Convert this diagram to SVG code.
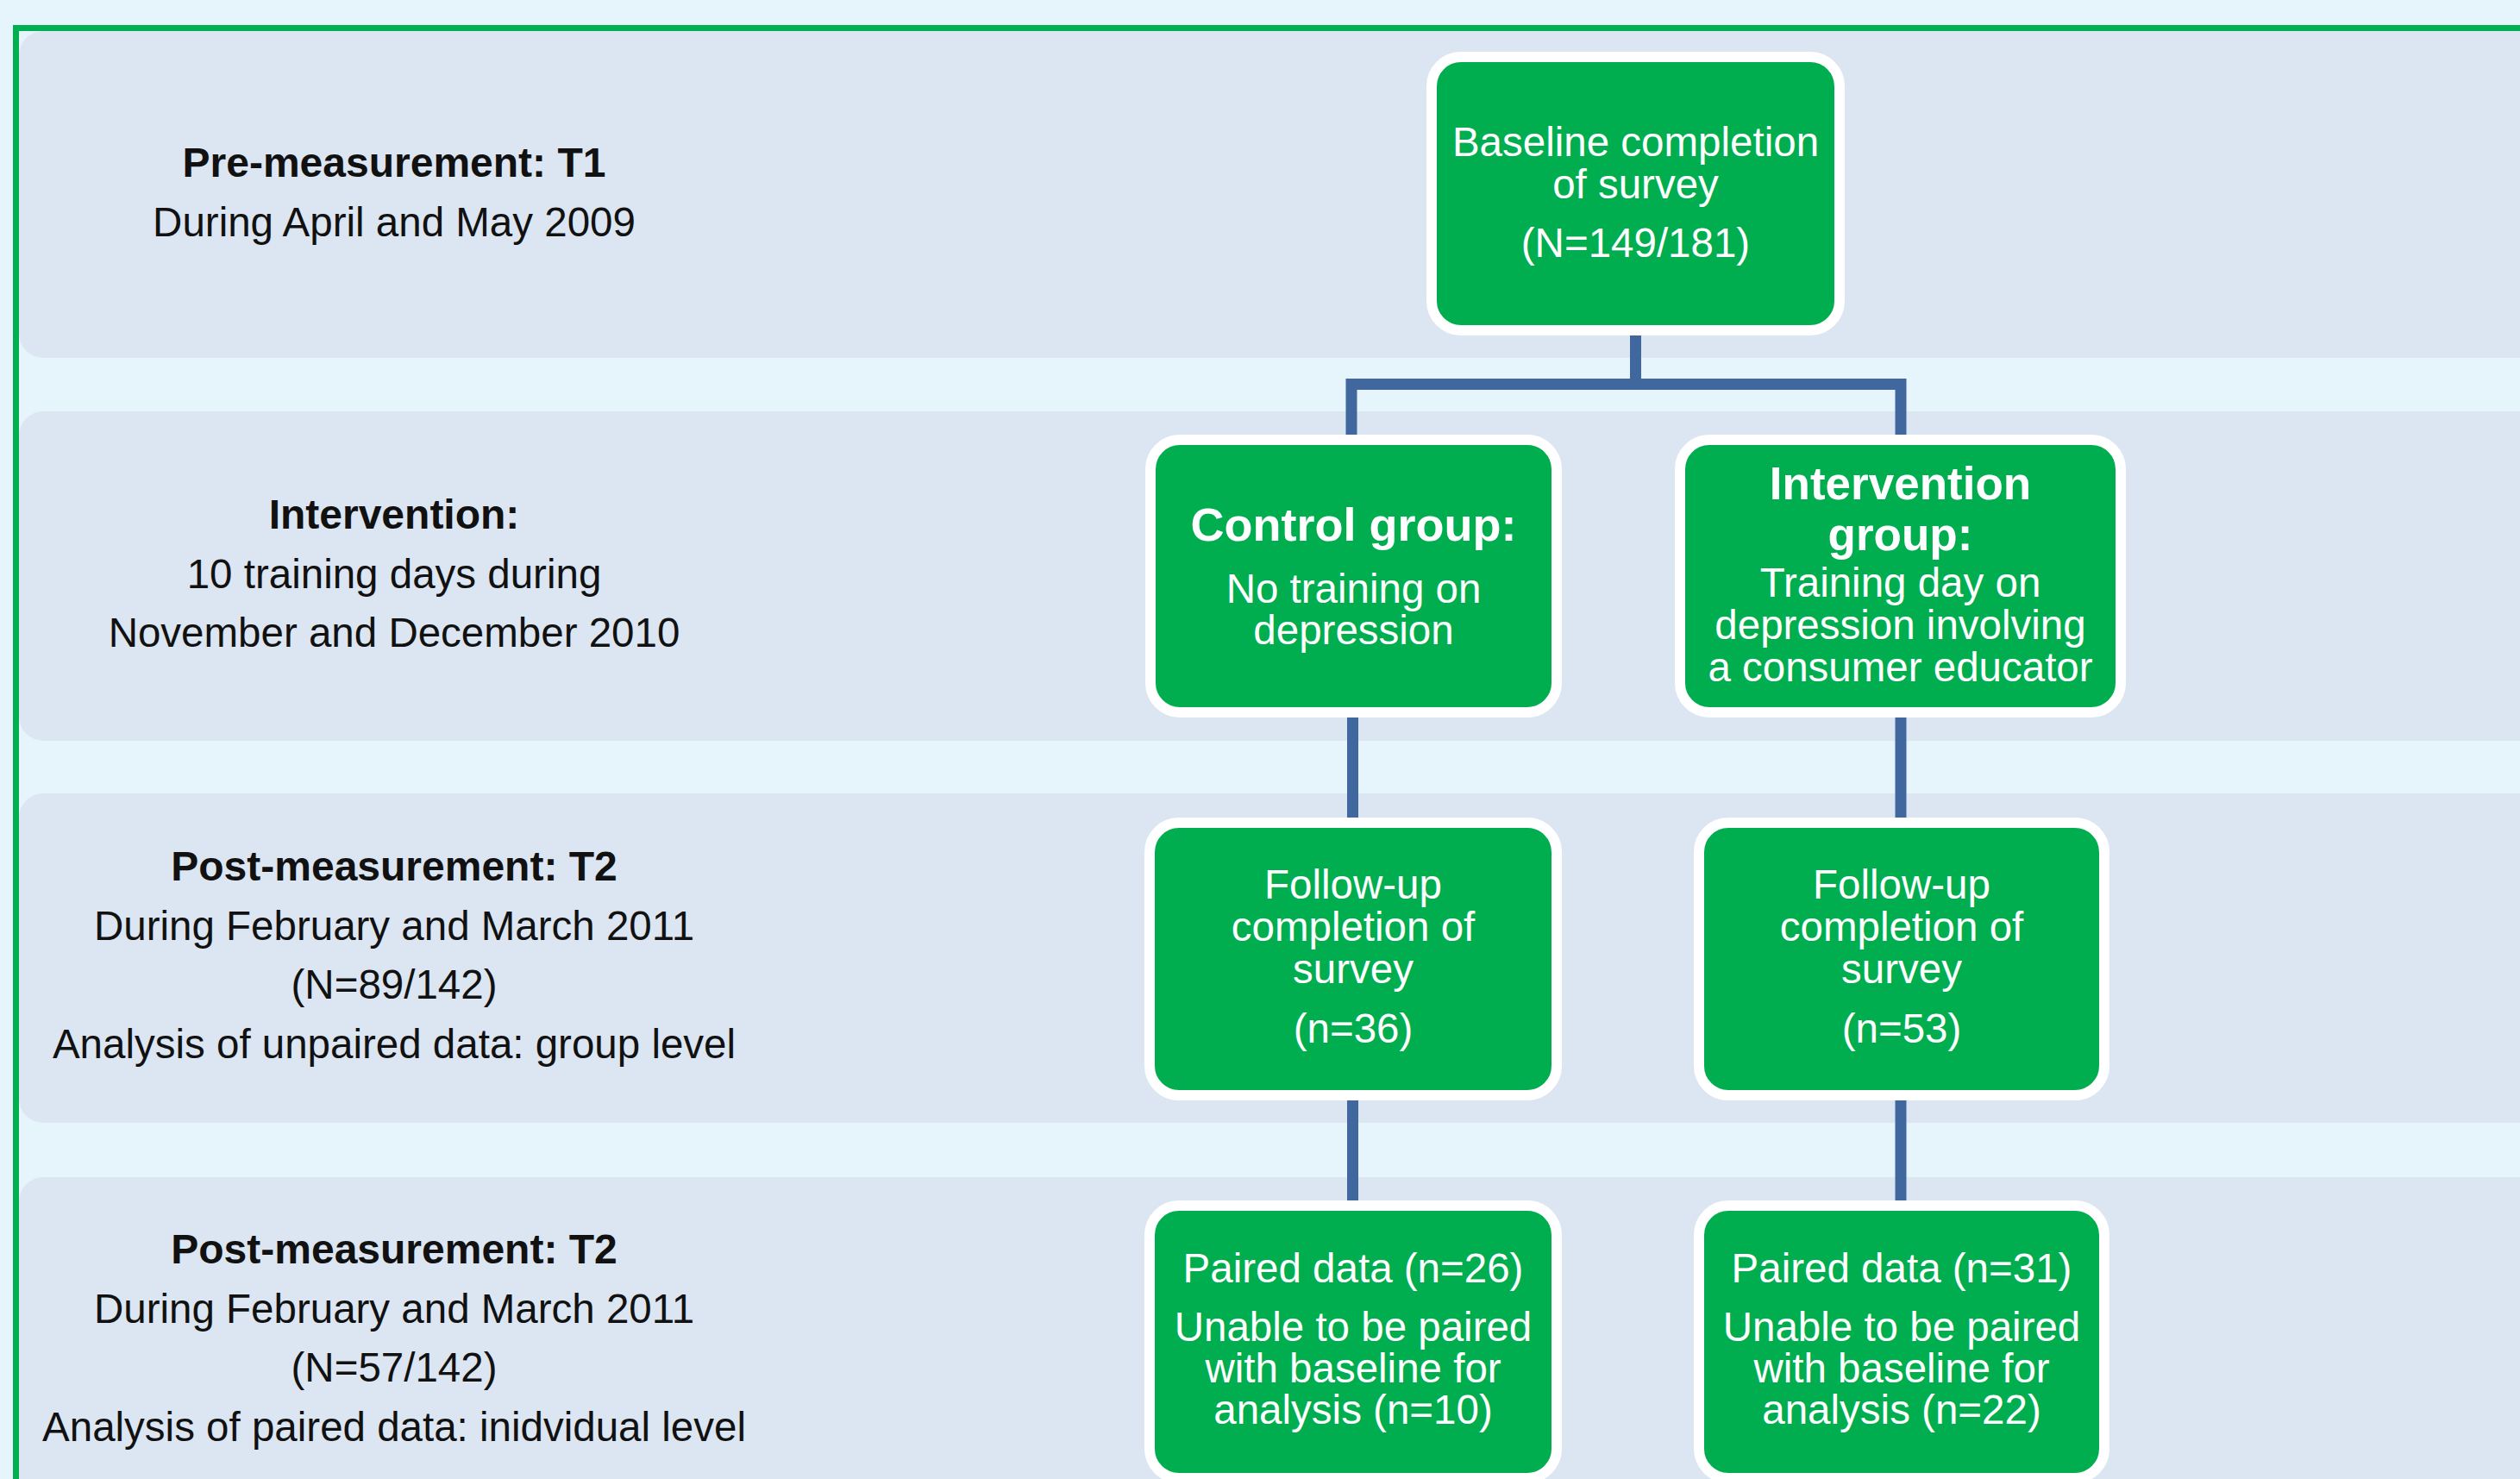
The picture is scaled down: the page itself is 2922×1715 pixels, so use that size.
<svg xmlns="http://www.w3.org/2000/svg" width="2922" height="1715" viewBox="0 0 2922 1715">
<style>
.band{fill:#DCE6F2}
.lbl{font-family:"Liberation Sans",Arial,sans-serif;font-size:47.5px;fill:#111;text-anchor:middle}
.lblb{font-family:"Liberation Sans",Arial,sans-serif;font-size:48px;font-weight:bold;fill:#111;text-anchor:middle}
.box{fill:#00AE50;stroke:#FFFFFF;stroke-width:12}
.t{font-family:"Liberation Sans",Arial,sans-serif;font-size:47.5px;fill:#FFFFFF;text-anchor:middle}
.tb{font-family:"Liberation Sans",Arial,sans-serif;font-size:54px;font-weight:bold;fill:#FFFFFF;text-anchor:middle}
.con{fill:none;stroke:#41689E;stroke-width:13;stroke-linejoin:miter}
</style>
<rect x="0" y="0" width="2922" height="1715" fill="#E6F5FC"/>
<g id="band-t1">
<rect class="band" x="22" y="36" width="2960" height="379" rx="28"/>
<text class="lblb" x="457" y="205">Pre-measurement: T1</text>
<text class="lbl" x="457" y="274">During April and May 2009</text>
</g>
<g id="band-intervention">
<rect class="band" x="22" y="477" width="2960" height="382" rx="28"/>
<text class="lblb" x="457" y="613">Intervention:</text>
<text class="lbl" x="457" y="682">10 training days during</text>
<text class="lbl" x="457" y="750">November and December 2010</text>
</g>
<g id="band-t2-unpaired">
<rect class="band" x="22" y="920" width="2960" height="382" rx="28"/>
<text class="lblb" x="457" y="1021">Post-measurement: T2</text>
<text class="lbl" x="457" y="1090">During February and March 2011</text>
<text class="lbl" x="457" y="1158">(N=89/142)</text>
<text class="lbl" x="457" y="1227">Analysis of unpaired data: group level</text>
</g>
<g id="band-t2-paired">
<rect class="band" x="22" y="1365" width="2960" height="400" rx="28"/>
<text class="lblb" x="457" y="1465">Post-measurement: T2</text>
<text class="lbl" x="457" y="1534">During February and March 2011</text>
<text class="lbl" x="457" y="1602">(N=57/142)</text>
<text class="lbl" x="457" y="1671">Analysis of paired data: inidvidual level</text>
</g>
<rect x="18.5" y="32.5" width="3000" height="2000" fill="none" stroke="#00B050" stroke-width="7"/>
<g id="connectors">
<path class="con" d="M1896.5 384 V445.5"/>
<path class="con" d="M1567 504 V445.5 H2204 V504"/>
<path class="con" d="M1568.5 832 V949"/>
<path class="con" d="M2204 832 V949"/>
<path class="con" d="M1568.5 1270 V1393"/>
<path class="con" d="M2204 1270 V1393"/>
</g>
<g id="baseline">
<rect class="box" x="1660" y="66" width="473" height="317" rx="34"/>
<text class="t" x="1896.5" y="181">Baseline completion</text>
<text class="t" x="1896.5" y="230">of survey</text>
<text class="t" x="1896.5" y="298">(N=149/181)</text>
</g>
<g id="control-group">
<rect class="box" x="1334" y="510" width="471" height="316" rx="34"/>
<text class="tb" x="1569.5" y="627">Control group:</text>
<text class="t" x="1569.5" y="699">No training on</text>
<text class="t" x="1569.5" y="747">depression</text>
</g>
<g id="intervention-group">
<rect class="box" x="1948" y="510" width="511" height="316" rx="34"/>
<text class="tb" x="2203.5" y="579" style="font-size:53px">Intervention<tspan x="2203.5" dy="59">group:</tspan></text>
<text class="t" x="2203.5" y="692">Training day on</text>
<text class="t" x="2203.5" y="741">depression involving</text>
<text class="t" x="2203.5" y="790">a consumer educator</text>
</g>
<g id="followup-control">
<rect class="box" x="1333" y="954" width="472" height="316" rx="34"/>
<text class="t" x="1569" y="1042">Follow-up</text>
<text class="t" x="1569" y="1091">completion of</text>
<text class="t" x="1569" y="1140">survey</text>
<text class="t" x="1569" y="1209">(n=36)</text>
</g>
<g id="followup-intervention">
<rect class="box" x="1970" y="954" width="470" height="316" rx="34"/>
<text class="t" x="2205" y="1042">Follow-up</text>
<text class="t" x="2205" y="1091">completion of</text>
<text class="t" x="2205" y="1140">survey</text>
<text class="t" x="2205" y="1209">(n=53)</text>
</g>
<g id="paired-control">
<rect class="box" x="1333" y="1398" width="472" height="316" rx="34"/>
<text class="t" x="1569" y="1487">Paired data (n=26)</text>
<text class="t" x="1569" y="1555">Unable to be paired</text>
<text class="t" x="1569" y="1603">with baseline for</text>
<text class="t" x="1569" y="1651">analysis (n=10)</text>
</g>
<g id="paired-intervention">
<rect class="box" x="1970" y="1398" width="470" height="316" rx="34"/>
<text class="t" x="2205" y="1487">Paired data (n=31)</text>
<text class="t" x="2205" y="1555">Unable to be paired</text>
<text class="t" x="2205" y="1603">with baseline for</text>
<text class="t" x="2205" y="1651">analysis (n=22)</text>
</g>
</svg>
